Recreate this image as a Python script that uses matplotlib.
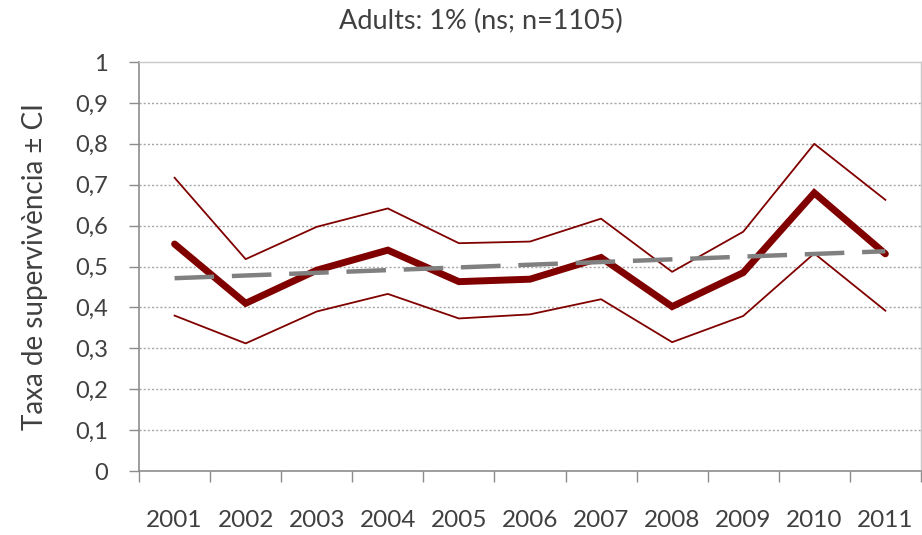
import numpy as np
import matplotlib
matplotlib.use('Agg')
import matplotlib.pyplot as plt

years = ['2001', '2002', '2003', '2004', '2005', '2006', '2007', '2008', '2009', '2010', '2011']
surv = [0.555, 0.410, 0.491, 0.540, 0.463, 0.469, 0.522, 0.402, 0.485, 0.680, 0.531]
ci_hi = [0.717, 0.518, 0.597, 0.642, 0.557, 0.561, 0.617, 0.487, 0.585, 0.800, 0.663]
ci_lo = [0.380, 0.312, 0.390, 0.433, 0.373, 0.383, 0.420, 0.315, 0.379, 0.532, 0.392]

INK = '#404040'
RED = '#800000'
plt.rcParams['font.family'] = ['Lato', 'DejaVu Sans']

fig = plt.figure(figsize=(9.22, 5.35), dpi=100)
ax = fig.add_axes([0.1508, 0.1196, 0.848, 0.7645])

x = np.arange(len(years))
ax.plot(x, ci_hi, color=RED, lw=1.3, zorder=3)
ax.plot(x, ci_lo, color=RED, lw=1.3, zorder=3)
ax.plot(x, surv, color=RED, lw=5.0, zorder=4, solid_capstyle='round', solid_joinstyle='miter')

# linear trend of the survival series
k, b = np.polyfit(x, surv, 1)
ax.plot(x, k * x + b, color='#808080', lw=3.2, ls=(0, (8.9, 4.0)), zorder=5)

ax.set_xlim(-0.5, len(years) - 0.5)
ax.set_ylim(0, 1)
yt = np.round(np.arange(0, 1.01, 0.1), 1)
ax.set_yticks(yt)
ax.set_yticklabels(['0' if v == 0 else '1' if v == 1 else f'{v:.1f}'.replace('.', ',') for v in yt])
ax.set_xticks(x)
ax.set_xticklabels(years)
ax.set_xticks(np.arange(-0.5, len(years)), minor=True)
ax.tick_params(axis='x', which='major', length=0, pad=28, labelsize=17.5, labelcolor=INK)
ax.tick_params(axis='x', which='minor', length=8, width=1, color='#8c8c8c', direction='out')
ax.tick_params(axis='y', length=7.5, width=1, color='#8c8c8c', labelsize=17, labelcolor=INK, pad=15)

for v in yt[1:-1]:
    ax.axhline(v, color='#a6a6a6', lw=1.0, ls=(0, (1.5, 1.5)), zorder=1)

for s in ['left', 'bottom']:
    ax.spines[s].set_color('#8c8c8c')
    ax.spines[s].set_linewidth(1.2)
for s in ['top', 'right']:
    ax.spines[s].set_color('#c8c8c8')
    ax.spines[s].set_linewidth(1.0)

ax.set_ylabel('Taxa de supervivència ± CI', fontsize=20, color=INK)
ax.yaxis.set_label_coords(-0.117, 0.5)
fig.text(0.522, 0.96, 'Adults: 1% (ns; n=1105)', ha='center', va='center', fontsize=19.5, color=INK)

fig.savefig('out.png', dpi=100)
